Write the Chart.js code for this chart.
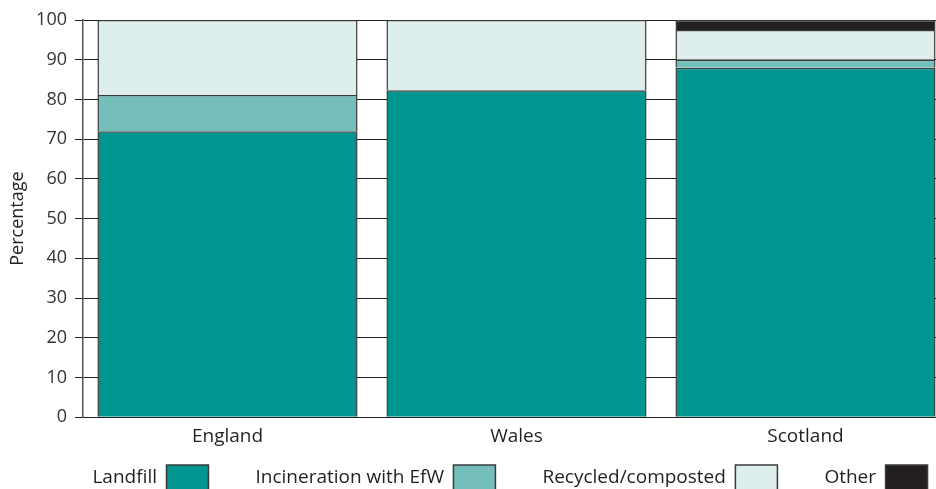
<!DOCTYPE html>
<html lang="en">
<head>
  <meta charset="UTF-8">
  <title>Waste management by country</title>
  <script src="https://cdn.jsdelivr.net/npm/chart.js"></script>
  <style>
    html, body { margin: 0; padding: 0; overflow: hidden; background: #fff; }
    #wrap { position: relative; width: 950px; height: 539px; }
  </style>
</head>
<body>
  <div id="wrap"><canvas id="chart"></canvas></div>

  <script>
    const categories = ['England', 'Wales', 'Scotland'];
    const seriesNames = ['Landfill', 'Incineration with EfW', 'Recycled/composted', 'Other'];
    const landfill = [72, 82.3, 88];
    const incineration = [9.1, 0, 2];
    const recycled = [18.9, 17.7, 7.5];
    const other = [0, 0, 2.5];
    const yTicks = [0, 10, 20, 30, 40, 50, 60, 70, 80, 90, 100];

    const colours = ['#00968f', '#74bfbc', '#ddeeed', '#231f20'];
    const values = [landfill, incineration, recycled, other];
    const font = { family: "'Open Sans', sans-serif", size: 19 };
    const ink = '#231f20';

    Chart.defaults.color = ink;
    Chart.defaults.font.family = font.family;

    // legend padding is also the gap above the row, so lift the legend up
    // under the axis labels and centre it on the plot instead of the canvas
    const legendNudge = {
      id: 'legendNudge',
      afterLayout(chart) {
        const lg = chart.legend;
        lg.top -= 38; lg.bottom -= 38;
        lg.left += 35; lg.right += 35;
      }
    };

    new Chart(document.getElementById('chart'), {
      type: 'bar',
      data: {
        labels: categories,
        datasets: seriesNames.map((name, i) => ({
          label: name,
          data: values[i],
          backgroundColor: colours[i],
          borderColor: '#3a3a3a',
          borderWidth: 1.5,
          borderSkipped: 'start',
          barPercentage: 0.9,
          categoryPercentage: 1
        }))
      },
      plugins: [legendNudge],
      options: {
        responsive: true,
        maintainAspectRatio: false,
        animation: false,
        layout: { padding: { top: 20 } },
        plugins: {
          tooltip: { enabled: false },
          legend: {
            position: 'bottom',
            rtl: true,
            reverse: true,
            labels: {
              font: font,
              color: ink,
              boxWidth: 42,
              boxHeight: 26,
              padding: 47
            }
          }
        },
        scales: {
          x: {
            stacked: true,
            grid: { display: false, drawTicks: false },
            border: { display: true, color: ink, width: 1 },
            ticks: { font: font, color: ink, padding: 8 }
          },
          y: {
            stacked: true,
            min: 0,
            max: 100,
            afterBuildTicks: s => { s.ticks = yTicks.map(v => ({ value: v })); },
            grid: { color: ink, lineWidth: 1, tickLength: 8, tickColor: ink },
            border: { display: true, color: '#555', width: 1.5 },
            ticks: { font: { family: font.family, size: 18 }, color: '#333', padding: 8 },
            title: { display: true, text: 'Percentage', font: { family: font.family, size: 18 }, color: ink, padding: { top: 7, bottom: 0 } },
            afterFit: s => { s.width = 83; }
          }
        }
      }
    });
  </script>
</body>
</html>
